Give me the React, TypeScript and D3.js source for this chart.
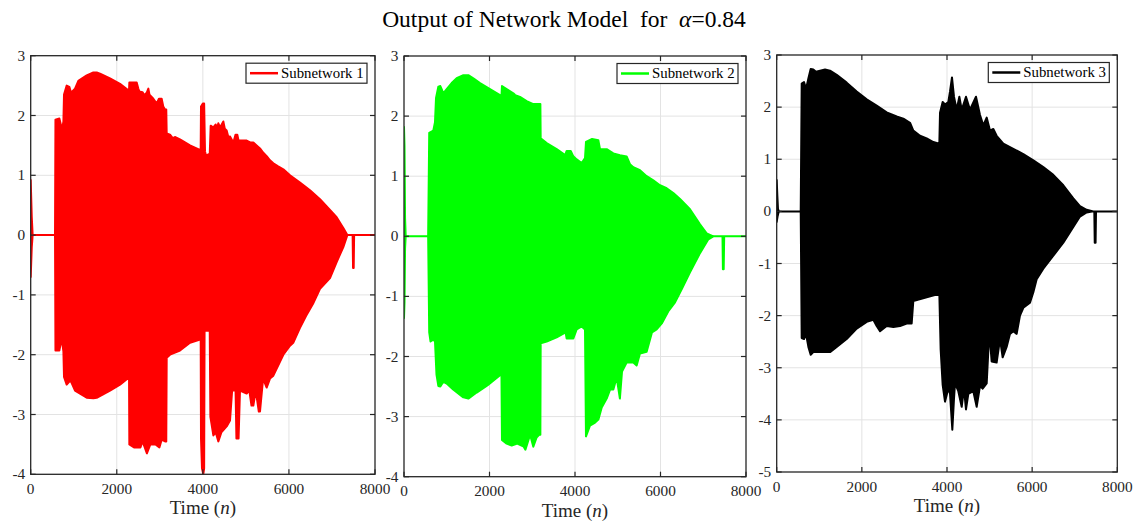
import React from "react";
import * as d3 from "d3";

// ---------- data ----------
const xTicks = [0, 2000, 4000, 6000, 8000];
const yTicksA = [-4, -3, -2, -1, 0, 1, 2, 3];
const yTicksB = [-5, -4, -3, -2, -1, 0, 1, 2, 3];
const seriesNames = ["Subnetwork 1", "Subnetwork 2", "Subnetwork 3"];
const titleText = "Output of Network Model  for  ";
const alphaValue = "0.84";

// envelopes: [n, value]
const sub1Upper: [number, number][] = [
  [0, 0.92], [25, 0.3], [45, 0], [565, 0], [575, 1.93], [666, 1.95], [700, 1.85], [720, 1.73], [760, 1.9],
  [774, 2.35], [836, 2.5], [898, 2.48], [937, 2.38], [1030, 2.45], [1107, 2.58], [1301, 2.67], [1456, 2.72],
  [1533, 2.72], [1611, 2.7], [1843, 2.62], [2075, 2.53], [2269, 2.42], [2285, 2.42], [2292, 2.55], [2463, 2.55],
  [2500, 2.45], [2525, 2.4], [2600, 2.39], [2640, 2.34], [2695, 2.38], [2734, 2.45], [2760, 2.35], [2850, 2.28],
  [2927, 2.2], [2980, 2.28], [3043, 2.28], [3080, 2.15], [3121, 2.1], [3150, 2.1], [3160, 1.7], [3237, 1.68],
  [3300, 1.62], [3350, 1.64], [3469, 1.6], [3702, 1.5], [3918, 1.43], [3950, 1.45], [3957, 2.15], [4000, 2.2],
  [4030, 2.2], [4050, 1.4], [4073, 1.33], [4128, 1.35], [4160, 1.35], [4182, 1.83], [4244, 1.8], [4300, 1.85],
  [4330, 1.78], [4360, 1.87], [4400, 1.8], [4476, 1.9], [4510, 1.78], [4553, 1.75], [4600, 1.62], [4631, 1.65],
  [4709, 1.55], [4760, 1.68], [4801, 1.68], [4830, 1.58], [4863, 1.58], [5018, 1.58], [5100, 1.55], [5173, 1.55],
  [5250, 1.5], [5328, 1.45], [5400, 1.38], [5483, 1.32], [5560, 1.25], [5638, 1.2], [5750, 1.15], [5870, 1.1],
  [6025, 1.0], [6257, 0.88], [6490, 0.75], [6722, 0.6], [6954, 0.42], [7109, 0.3], [7264, 0.12], [7357, 0], [8000, 0],
];
const sub1Lower: [number, number][] = [
  [0, -0.7], [25, -0.2], [45, 0], [565, 0], [575, -1.93], [666, -1.93], [700, -1.8], [720, -1.73], [760, -1.95],
  [774, -2.37], [836, -2.5], [898, -2.45], [937, -2.45], [1030, -2.6], [1301, -2.72], [1456, -2.73], [1533, -2.72],
  [1843, -2.6], [2075, -2.5], [2269, -2.39], [2285, -2.39], [2292, -3.5], [2400, -3.55], [2550, -3.55], [2600, -3.45],
  [2700, -3.65], [2780, -3.5], [2900, -3.5], [2990, -3.55], [3043, -3.42], [3121, -3.45], [3150, -3.45], [3160, -2.05],
  [3237, -2.0], [3469, -1.93], [3702, -1.8], [3918, -1.75], [3950, -1.75], [3957, -3.4], [3980, -3.9], [4010, -4.0],
  [4030, -3.9], [4040, -1.6], [4160, -1.6], [4175, -3.04], [4244, -3.35], [4300, -3.3], [4360, -3.45], [4430, -3.3],
  [4553, -3.2], [4631, -3.1], [4680, -2.6], [4760, -2.6], [4780, -3.4], [4830, -3.4], [4863, -2.6], [5018, -2.65],
  [5080, -2.6], [5130, -2.85], [5173, -2.85], [5230, -2.6], [5300, -2.95], [5328, -2.95], [5400, -2.4], [5483, -2.55],
  [5560, -2.4], [5638, -2.35], [5870, -2.0], [6025, -1.85], [6100, -1.8], [6257, -1.55], [6400, -1.35], [6560, -1.15],
  [6722, -0.9], [6954, -0.72], [7109, -0.45], [7264, -0.2], [7357, 0], [7480, 0], [7490, -0.55], [7505, -0.55],
  [7515, 0], [8000, 0],
];

const sub2Upper: [number, number][] = [
  [0, 1.82], [12, 1.5], [25, 0.3], [40, 0], [565, 0], [590, 1.72], [686, 1.76], [725, 1.9], [749, 2.3], [803, 2.49],
  [850, 2.5], [881, 2.45], [920, 2.38], [998, 2.45], [1115, 2.55], [1232, 2.63], [1388, 2.68], [1505, 2.68],
  [1622, 2.63], [1778, 2.55], [2012, 2.45], [2246, 2.35], [2280, 2.33], [2292, 2.5], [2401, 2.45], [2557, 2.38],
  [2600, 2.35], [2713, 2.32], [2869, 2.25], [3025, 2.2], [3166, 2.2], [3190, 2.2], [3197, 1.63], [3337, 1.55],
  [3571, 1.45], [3770, 1.35], [3805, 1.42], [3900, 1.42], [3961, 1.33], [4039, 1.28], [4156, 1.22], [4234, 1.3],
  [4257, 1.57], [4400, 1.62], [4546, 1.6], [4585, 1.45], [4741, 1.45], [4897, 1.38], [5052, 1.35], [5208, 1.33],
  [5286, 1.2], [5364, 1.15], [5520, 1.1], [5676, 1.0], [5832, 0.93], [5988, 0.85], [6144, 0.8], [6300, 0.72],
  [6456, 0.62], [6690, 0.45], [6924, 0.2], [7080, 0.05], [7236, 0], [8000, 0],
];
const sub2Lower: [number, number][] = [
  [0, -1.36], [12, -1.1], [25, -0.2], [40, 0], [565, 0], [590, -1.6], [620, -1.75], [686, -1.72], [725, -1.75],
  [760, -2.3], [803, -2.49], [850, -2.5], [920, -2.42], [998, -2.45], [1150, -2.55], [1388, -2.68], [1505, -2.7],
  [1700, -2.6], [1950, -2.48], [2246, -2.31], [2280, -2.31], [2292, -3.39], [2401, -3.45], [2520, -3.48],
  [2650, -3.45], [2800, -3.5], [2840, -3.55], [2950, -3.3], [3025, -3.5], [3100, -3.35], [3166, -3.3], [3190, -3.3],
  [3197, -1.78], [3337, -1.75], [3571, -1.68], [3780, -1.6], [3805, -1.7], [3961, -1.7], [4039, -1.55], [4156, -1.5],
  [4234, -1.55], [4257, -3.33], [4350, -3.15], [4470, -3.1], [4546, -3.05], [4625, -2.85], [4741, -2.7],
  [4820, -2.55], [4897, -2.55], [4975, -2.35], [5050, -2.7], [5100, -2.25], [5208, -2.1], [5364, -2.1],
  [5442, -2.15], [5520, -1.95], [5676, -1.92], [5800, -1.6], [5910, -1.55], [6030, -1.45], [6180, -1.25],
  [6340, -1.1], [6495, -0.88], [6690, -0.6], [6924, -0.28], [7119, -0.05], [7236, 0], [7450, 0], [7460, -0.55],
  [7478, -0.55], [7490, 0], [8000, 0],
];

const sub3Upper: [number, number][] = [
  [0, 0.6], [15, 0.3], [30, 0.05], [50, 0], [564, 0], [587, 2.45], [642, 2.48], [689, 2.35], [744, 2.55],
  [798, 2.73], [861, 2.72], [924, 2.68], [1018, 2.7], [1135, 2.72], [1252, 2.7], [1409, 2.62], [1644, 2.47],
  [1879, 2.3], [2114, 2.15], [2348, 2.03], [2583, 1.9], [2818, 1.82], [2975, 1.78], [3131, 1.7], [3209, 1.55],
  [3366, 1.45], [3523, 1.4], [3679, 1.33], [3820, 1.3], [3836, 1.89], [3898, 2.1], [3953, 2.05], [4031, 2.1],
  [4071, 2.3], [4117, 2.57], [4164, 2.2], [4227, 1.95], [4290, 2.2], [4345, 1.95], [4446, 2.2], [4540, 1.95],
  [4681, 2.2], [4775, 1.85], [4853, 1.65], [4932, 1.8], [5010, 1.55], [5088, 1.58], [5166, 1.45], [5323, 1.3],
  [5558, 1.2], [5793, 1.1], [6028, 0.98], [6262, 0.85], [6497, 0.7], [6732, 0.5], [6967, 0.25], [7123, 0.1],
  [7280, 0.03], [7437, 0], [8000, 0],
];
const sub3Lower: [number, number][] = [
  [0, -0.2], [20, -0.1], [50, 0], [564, 0], [587, -2.43], [642, -2.45], [689, -2.35], [744, -2.6], [798, -2.75],
  [861, -2.7], [1018, -2.7], [1252, -2.7], [1409, -2.6], [1644, -2.45], [1879, -2.25], [2114, -2.12], [2270, -2.08],
  [2348, -2.2], [2427, -2.3], [2583, -2.2], [2740, -2.22], [2896, -2.2], [3053, -2.15], [3170, -2.15], [3209, -1.72],
  [3523, -1.65], [3820, -1.58], [3851, -2.65], [3898, -3.33], [3953, -3.65], [4031, -3.4], [4071, -3.5],
  [4125, -4.19], [4164, -3.6], [4188, -3.3], [4266, -3.45], [4345, -3.75], [4399, -3.4], [4446, -3.8], [4501, -3.5],
  [4618, -3.45], [4697, -3.75], [4775, -3.35], [4837, -3.4], [4932, -3.3], [4994, -2.3], [5049, -2.88],
  [5166, -2.9], [5245, -2.45], [5307, -2.8], [5401, -2.6], [5480, -2.35], [5558, -2.3], [5636, -2.35],
  [5714, -2.0], [5793, -1.85], [5949, -1.75], [6028, -1.55], [6106, -1.3], [6262, -1.1], [6497, -0.85],
  [6732, -0.6], [6967, -0.3], [7123, -0.1], [7280, -0.02], [7437, 0], [7460, 0], [7470, -0.6], [7490, -0.6],
  [7500, 0], [8000, 0],
];

// ---------- layout ----------
const W = 1135;
const H = 523;
const FONT = "'Liberation Serif', 'Times New Roman', serif";
const AX = "#262626";
const GRID = "#e3e3e3";

const panels = [
  { upper: sub1Upper, lower: sub1Lower, color: "#ff0000", name: seriesNames[0], yTicks: yTicksA, yDom: [-4, 3], l: 30.7, r: 375, t: 55.7, b: 474.3 },
  { upper: sub2Upper, lower: sub2Lower, color: "#00ff00", name: seriesNames[1], yTicks: yTicksA, yDom: [-4, 3], l: 404, r: 746, t: 56, b: 476.7 },
  { upper: sub3Upper, lower: sub3Lower, color: "#000000", name: seriesNames[2], yTicks: yTicksB, yDom: [-5, 3], l: 776.7, r: 1117.3, t: 55, b: 472 },
];

function Panel({ p, idx }: { p: (typeof panels)[number]; idx: number }) {
  const x = d3.scaleLinear().domain([0, 8000]).range([p.l, p.r]);
  const y = d3.scaleLinear().domain(p.yDom).range([p.b, p.t]);
  const pts = [...p.upper, ...p.lower.slice().reverse()];
  const path = d3.line<[number, number]>().x((d) => x(d[0])).y((d) => y(d[1]))(pts) + "Z";
  const tl = 5;
  const clipId = `clip${idx}`;
  const lbx = p.r - 8 - 121;
  const lby = p.t + 7.5;
  return (
    <g>
      <defs>
        <clipPath id={clipId}>
          <rect x={p.l} y={p.t} width={p.r - p.l} height={p.b - p.t} />
        </clipPath>
      </defs>
      <rect x={p.l} y={p.t} width={p.r - p.l} height={p.b - p.t} fill="#fff" />
      {xTicks.slice(1, -1).map((v) => (
        <line key={"gx" + v} x1={x(v)} x2={x(v)} y1={p.t} y2={p.b} stroke={GRID} strokeWidth={1} />
      ))}
      {p.yTicks.slice(1, -1).map((v) => (
        <line key={"gy" + v} x1={p.l} x2={p.r} y1={y(v)} y2={y(v)} stroke={GRID} strokeWidth={1} />
      ))}
      <g clipPath={`url(#${clipId})`}>
        <path d={path} fill={p.color} stroke={p.color} strokeWidth={2} strokeLinejoin="round" />
      </g>
      <rect x={p.l} y={p.t} width={p.r - p.l} height={p.b - p.t} fill="none" stroke={AX} strokeWidth={1.3} />
      {xTicks.map((v) => (
        <g key={"tx" + v}>
          <line x1={x(v)} x2={x(v)} y1={p.b} y2={p.b - tl} stroke={AX} strokeWidth={1.2} />
          <line x1={x(v)} x2={x(v)} y1={p.t} y2={p.t + tl} stroke={AX} strokeWidth={1.2} />
          <text x={x(v)} y={p.b + 19.5} textAnchor="middle" fontFamily={FONT} fontSize={15.3} fill={AX}>
            {v}
          </text>
        </g>
      ))}
      {p.yTicks.map((v) => (
        <g key={"ty" + v}>
          <line x1={p.l} x2={p.l + tl} y1={y(v)} y2={y(v)} stroke={AX} strokeWidth={1.2} />
          <line x1={p.r} x2={p.r - tl} y1={y(v)} y2={y(v)} stroke={AX} strokeWidth={1.2} />
          <text x={p.l - 5.5} y={y(v) + 5} textAnchor="end" fontFamily={FONT} fontSize={15.3} fill={AX}>
            {v < 0 ? "-" + Math.abs(v) : String(v)}
          </text>
        </g>
      ))}
      <text x={(p.l + p.r) / 2} y={p.b + 40} textAnchor="middle" fontFamily={FONT} fontSize={19} fill={AX} style={{ whiteSpace: "pre" }}>
        {"Time ("}
        <tspan fontStyle="italic">n</tspan>
        {")"}
      </text>
      <rect x={lbx} y={lby} width={121} height={20} fill="#fff" stroke={AX} strokeWidth={1.2} />
      <line x1={lbx + 4} x2={lbx + 32} y1={lby + 10} y2={lby + 10} stroke={p.color} strokeWidth={2.5} />
      <text x={lbx + 35} y={lby + 14.5} fontFamily={FONT} fontSize={14.8} fill="#000">
        {p.name}
      </text>
    </g>
  );
}

export default function App() {
  return (
    <div style={{ position: "absolute", left: 0, top: 0 }}>
      <svg width={W} height={H} style={{ display: "block", background: "#fff" }}>
        <rect x={0} y={0} width={W} height={H} fill="#fff" />
        {panels.map((p, i) => (
          <Panel key={i} p={p} idx={i} />
        ))}
        <text x={564} y={27} textAnchor="middle" fontFamily={FONT} fontSize={23.5} fill="#000" style={{ whiteSpace: "pre" }}>
          {titleText}
          <tspan fontStyle="italic">α</tspan>
          {"=" + alphaValue}
        </text>
      </svg>
    </div>
  );
}
